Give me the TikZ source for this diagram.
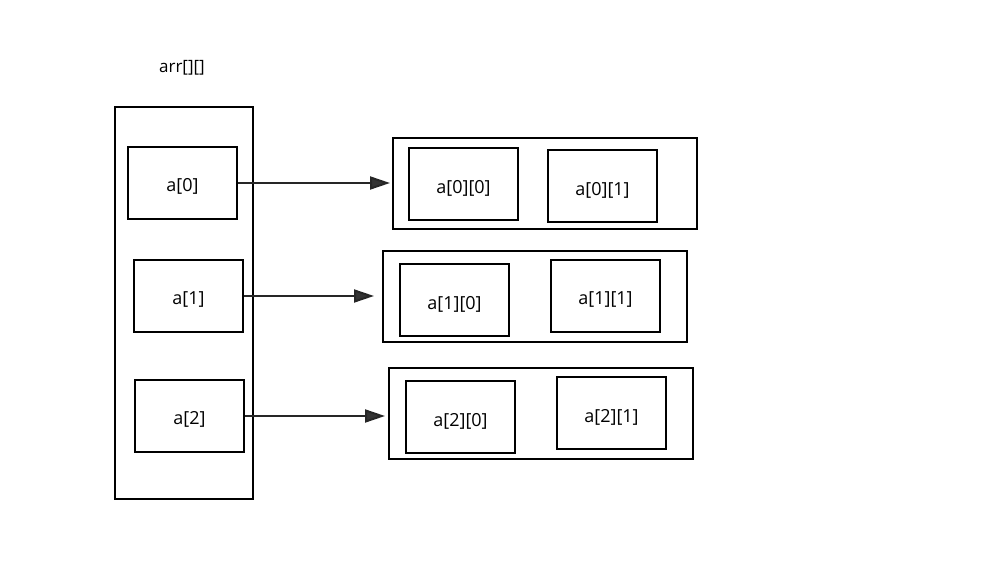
\documentclass[tikz,border=0pt]{standalone}
\usepackage{fontspec}
\setmainfont{Open Sans}
\usetikzlibrary{arrows.meta,calc}
\newcommand\lowr[2][4pt]{\raisebox{-#1}[\height][\depth]{#2}}
\begin{document}
\begin{tikzpicture}[x=1pt,y=-1pt,
  cell/.style={draw=black,line width=2pt,inner sep=0pt,minimum width=109pt,minimum height=72pt,font=\fontsize{18}{21}\selectfont},
  rowbox/.style={draw=black,line width=2pt,inner sep=0pt,minimum width=304pt,minimum height=91pt},
  colbox/.style={draw=black,line width=2pt,inner sep=0pt,minimum width=138pt,minimum height=392pt},
  ptr/.style={line width=2pt,draw=black!85,-{Triangle[length=20pt,width=13pt,fill=black!80]}}]
\useasboundingbox (0,0) rectangle (991,577);
\node[font=\fontsize{17}{20}\selectfont] (lbl) at (182,68) {arr[][]};
\node[colbox] (arr) at (184,303) {};
\node[cell] (a0) at (182.5,183) {\lowr[3pt]{a[0]}};
\node[cell] (a1) at (188.5,296) {\lowr[3pt]{a[1]}};
\node[cell] (a2) at (189.5,416) {\lowr[3pt]{a[2]}};
\node[rowbox] (r0) at (545,183.5) {};
\node[rowbox] (r1) at (535,296.5) {};
\node[rowbox] (r2) at (541,413.5) {};
\node[cell] (c00) at (463.5,184) {\lowr{a[0][0]}};
\node[cell] (c01) at (602.5,186) {\lowr{a[0][1]}};
\node[cell] (c10) at (454.5,300) {\lowr{a[1][0]}};
\node[cell] (c11) at (605.5,296) {\lowr{a[1][1]}};
\node[cell] (c20) at (460.5,417) {\lowr{a[2][0]}};
\node[cell] (c21) at (611.5,413) {\lowr{a[2][1]}};
\draw[ptr,shorten >=2pt] (a0.east) -- (a0.east -| r0.west);
\draw[ptr,shorten >=8pt] (a1.east) -- (a1.east -| r1.west);
\draw[ptr,shorten >=3pt] (a2.east) -- (a2.east -| r2.west);
\end{tikzpicture}
\end{document}
